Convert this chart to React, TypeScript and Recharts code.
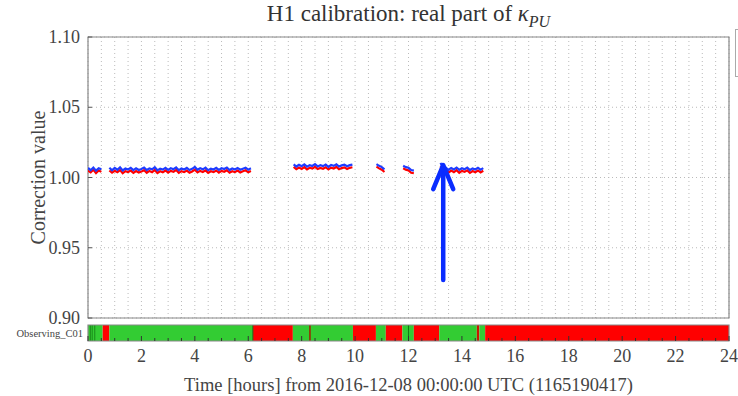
import {
  ComposedChart,
  Line,
  XAxis,
  YAxis,
  CartesianGrid,
  ReferenceArea,
  ReferenceLine,
} from 'recharts';

// kappa_PU real part, sampled every 0.1 h inside each locked stretch
const segStarts = [0.0, 0.8, 7.7, 10.8, 11.8, 13.2];

const blueSegs = [
  [1.0068, 1.0052, 1.0071, 1.0049, 1.0066, 1.0058],
  [
    1.007, 1.0051, 1.0068, 1.0055, 1.0072, 1.005, 1.0064, 1.0057, 1.0069, 1.0052,
    1.0066, 1.0054, 1.0061, 1.0071, 1.0053, 1.0065, 1.0058, 1.0073, 1.0051, 1.0063,
    1.0056, 1.0069, 1.0054, 1.0066, 1.0059, 1.0072, 1.0052, 1.0064, 1.0057, 1.0068,
    1.0053, 1.0062, 1.0075, 1.0055, 1.0066, 1.0058, 1.007, 1.0052, 1.0063, 1.0057,
    1.0069, 1.0054, 1.0066, 1.006, 1.0071, 1.0053, 1.0064, 1.0057, 1.0068, 1.0055,
    1.0063, 1.007, 1.0056, 1.0065,
  ],
  [
    1.0094, 1.0078, 1.009, 1.008, 1.0093, 1.0077, 1.0088, 1.0082, 1.0095, 1.0079,
    1.0087, 1.0081, 1.0092, 1.0076, 1.0089, 1.0083, 1.0094, 1.0078, 1.0086, 1.0091,
    1.008, 1.0088, 1.0092,
  ],
  [1.0095, 1.0083, 1.0074, 1.0058],
  [1.0084, 1.0074, 1.0069, 1.0053, 1.0049],
  [
    1.0104, 1.0061, 1.007, 1.0055, 1.0068, 1.0058, 1.0071, 1.0054, 1.0066, 1.0059,
    1.007, 1.0053, 1.0065, 1.0057, 1.0069, 1.0056, 1.0067,
  ],
];

const redSegs = [
  [1.0049, 1.0036, 1.0055, 1.0031, 1.005, 1.004],
  [
    1.005, 1.0034, 1.0047, 1.0037, 1.0053, 1.0031, 1.0045, 1.0039, 1.0049, 1.0033,
    1.0046, 1.0036, 1.0042, 1.0052, 1.0034, 1.0047, 1.0038, 1.0054, 1.0032, 1.0044,
    1.0037, 1.005, 1.0035, 1.0047, 1.004, 1.0053, 1.0033, 1.0045, 1.0038, 1.0049,
    1.0034, 1.0043, 1.0056, 1.0036, 1.0047, 1.0039, 1.0051, 1.0033, 1.0044, 1.0038,
    1.005, 1.0035, 1.0047, 1.0041, 1.0052, 1.0034, 1.0045, 1.0038, 1.0049, 1.0036,
    1.0044, 1.0051, 1.0037, 1.0046,
  ],
  [
    1.0075, 1.0059, 1.0071, 1.0061, 1.0074, 1.0058, 1.0069, 1.0063, 1.0076, 1.006,
    1.0068, 1.0062, 1.0073, 1.0057, 1.007, 1.0064, 1.0075, 1.0059, 1.0067, 1.0072,
    1.0061, 1.0069, 1.0073,
  ],
  [1.0077, 1.0065, 1.0055, 1.0039],
  [1.0066, 1.0056, 1.005, 1.0034, 1.003],
  [
    1.008, 1.004, 1.0051, 1.0035, 1.0049, 1.0038, 1.0052, 1.0034, 1.0047, 1.004,
    1.0051, 1.0033, 1.0046, 1.0038, 1.005, 1.0036, 1.0048,
  ],
];

// Observing_C01 segment flags: [start h, end h, state]
const statusSegs: [number, number, string][] = [
  [0, 0.55, 'up'],
  [0.55, 0.8, 'down'],
  [0.8, 6.17, 'up'],
  [6.17, 7.67, 'down'],
  [7.67, 9.92, 'up'],
  [9.92, 10.78, 'down'],
  [10.78, 11.15, 'up'],
  [11.15, 11.77, 'down'],
  [11.77, 12.2, 'up'],
  [12.2, 13.15, 'down'],
  [13.15, 14.56, 'up'],
  [14.56, 14.65, 'down'],
  [14.65, 14.87, 'up'],
  [14.87, 24, 'down'],
  [0.07, 0.1, 'mark'],
  [0.14, 0.17, 'mark'],
  [0.24, 0.27, 'mark'],
  [6.15, 6.19, 'mark'],
  [8.28, 8.34, 'markRed'],
  [11.98, 12.02, 'mark'],
  [14.58, 14.62, 'markRed'],
];

const yTicks = [0.9, 0.95, 1.0, 1.05, 1.1];
const halfHours = Array.from({ length: 49 }, (_, i) => i / 2);

const arrowHour = 13.3;
const arrowFrom = 0.927;
const arrowTo = 1.0088;

const rows: { t: number; blue: number | null; red: number | null }[] = [];
segStarts.forEach((start, s) => {
  blueSegs[s].forEach((b, i) => {
    rows.push({ t: +(start + i * 0.1).toFixed(2), blue: b, red: redSegs[s][i] });
  });
  const last = start + (blueSegs[s].length - 1) * 0.1;
  rows.push({ t: +(last + 0.05).toFixed(2), blue: null, red: null });
});

const statusColor: Record<string, string> = {
  up: '#33cc33',
  down: '#ff0000',
  mark: '#137a13',
  markRed: '#9b2a00',
};

const FONT = '"Liberation Serif", "DejaVu Serif", serif';

const BottomTick = ({ x, y, payload }: any) => {
  const len = payload.value % 2 === 0 ? 6 : 3;
  return <line x1={x} x2={x} y1={y} y2={y - len} stroke="#555" />;
};

const TopTick = ({ x, y, payload }: any) => {
  const len = payload.value % 2 === 0 ? 6 : 3;
  return <line x1={x} x2={x} y1={y} y2={y + len} stroke="#555" />;
};

const LeftTick = ({ x, y, payload }: any) => (
  <g>
    <line x1={x + 8} x2={x + 12} y1={y} y2={y} stroke="#555" />
    <text x={x} y={y} textAnchor="end" dominantBaseline="central" fontSize={18} fill="#444" fontFamily={FONT}>
      {payload.value.toFixed(2)}
    </text>
  </g>
);

const StatusBottomTick = ({ x, y, payload }: any) => {
  const major = payload.value % 2 === 0;
  return (
    <g>
      <line x1={x} x2={x} y1={y} y2={y - (major ? 5 : 3)} stroke="#333" />
      {major && (
        <text x={x} y={y + 15} textAnchor="middle" dominantBaseline="central" fontSize={18} fill="#444" fontFamily={FONT}>
          {payload.value}
        </text>
      )}
    </g>
  );
};

const StatusTopTick = ({ x, y, payload }: any) => {
  const len = payload.value % 2 === 0 ? 5 : 3;
  return <line x1={x} x2={x} y1={y} y2={y + len} stroke="#333" />;
};

const ArrowShape = (props: any) => {
  const { x1, y1, x2, y2 } = props;
  const top = Math.min(y1, y2);
  const bottom = Math.max(y1, y2);
  return (
    <g stroke="#0a2cff" strokeWidth={4.5} fill="none" strokeLinecap="round" strokeLinejoin="round">
      <line x1={x1} x2={x2} y1={bottom} y2={top + 2} />
      <polyline points={`${x1 - 10},${top + 24} ${x1},${top} ${x1 + 10},${top + 24}`} />
    </g>
  );
};

export default function App() {
  return (
    <div style={{ position: 'absolute', left: 0, top: 0, width: 738, height: 396, background: '#fff', fontFamily: FONT, overflow: 'hidden' }}>
      <div style={{ position: 'absolute', left: 0, width: 817, top: 1, textAlign: 'center', fontSize: 23, color: '#333' }}>
        H1 calibration: real part of <i>κ</i>
        <sub style={{ fontSize: 16 }}>
          <i>PU</i>
        </sub>
      </div>
      <div style={{ position: 'absolute', left: 735, top: 29, width: 10, height: 46, border: '1px solid #aaa', borderRight: 'none' }} />

      <div style={{ position: 'absolute', left: 0, top: 320 }}>
        <ComposedChart width={738} height={76} data={[{ t: 0, v: 0 }, { t: 24, v: 1 }]} margin={{ top: 5, right: 9, left: 0, bottom: 0 }}>
          {statusSegs.map(([s, e, st], i) => (
            <ReferenceArea key={i} x1={s} x2={e} y1={0} y2={1} fill={statusColor[st]} fillOpacity={1} stroke="none" ifOverflow="visible" />
          ))}
          <ReferenceArea x1={0} x2={24} y1={0} y2={1} fill="none" stroke="#888" strokeWidth={1.2} ifOverflow="visible" />
          <XAxis
            dataKey="t"
            type="number"
            domain={[0, 24]}
            allowDataOverflow
            ticks={halfHours}
            interval={0}
            height={55}
            tickSize={0}
            tickMargin={0}
            axisLine={false}
            tick={<StatusBottomTick />}
            label={{
              value: 'Time [hours] from 2016-12-08 00:00:00 UTC (1165190417)',
              position: 'insideBottom',
              offset: 5,
              fontSize: 18.5,
              fill: '#444',
              fontFamily: FONT,
            }}
          />
          <XAxis
            xAxisId="top"
            orientation="top"
            type="number"
            domain={[0, 24]}
            allowDataOverflow
            ticks={halfHours}
            interval={0}
            height={0}
            tickSize={0}
            tickMargin={0}
            axisLine={false}
            tick={<StatusTopTick />}
          />
          <YAxis
            type="number"
            domain={[0, 1]}
            allowDataOverflow
            ticks={[0.5]}
            interval={0}
            width={88}
            tickSize={0}
            tickMargin={5}
            axisLine={false}
            tickFormatter={() => 'Observing_C01'}
            tick={{ fontSize: 10.5, fill: '#444', fontFamily: FONT }}
          />
        </ComposedChart>
      </div>

      <div style={{ position: 'absolute', left: 0, top: 0, pointerEvents: 'none' }}>
        <ComposedChart width={738} height={335} data={rows} margin={{ top: 37, right: 9, left: 0, bottom: 17 }}>
          <CartesianGrid stroke="#bbb" strokeDasharray="1 3" />
          <XAxis
            dataKey="t"
            type="number"
            domain={[0, 24]}
            allowDataOverflow
            ticks={halfHours}
            interval={0}
            height={0}
            tickSize={0}
            tickMargin={0}
            axisLine={false}
            tick={<BottomTick />}
          />
          <XAxis
            xAxisId="top"
            orientation="top"
            type="number"
            domain={[0, 24]}
            allowDataOverflow
            ticks={halfHours}
            interval={0}
            height={0}
            tickSize={0}
            tickMargin={0}
            axisLine={false}
            tick={<TopTick />}
          />
          <YAxis
            type="number"
            domain={[0.9, 1.1]}
            allowDataOverflow
            ticks={yTicks}
            interval={0}
            width={88}
            tickSize={0}
            tickMargin={8}
            axisLine={false}
            tick={<LeftTick />}
            label={{
              content: (p: any) => {
                const cy = p.viewBox.y + p.viewBox.height / 2;
                return (
                  <text x={38} y={cy} transform={`rotate(-90, 38, ${cy})`} textAnchor="middle" dominantBaseline="central" fontSize={20} fill="#444" fontFamily={FONT}>
                    Correction value
                  </text>
                );
              },
            }}
          />
          <ReferenceArea x1={0} x2={24} y1={0.9} y2={1.1} fill="none" stroke="#888" strokeWidth={1.2} />
          <Line dataKey="red" stroke="#ff0000" strokeWidth={2.2} dot={false} isAnimationActive={false} connectNulls={false} />
          <Line dataKey="blue" stroke="#1f3cff" strokeWidth={2.2} dot={false} isAnimationActive={false} connectNulls={false} />
          <ReferenceLine
            segment={[
              { x: arrowHour, y: arrowFrom },
              { x: arrowHour, y: arrowTo },
            ]}
            shape={<ArrowShape />}
          />
        </ComposedChart>
      </div>
    </div>
  );
}
